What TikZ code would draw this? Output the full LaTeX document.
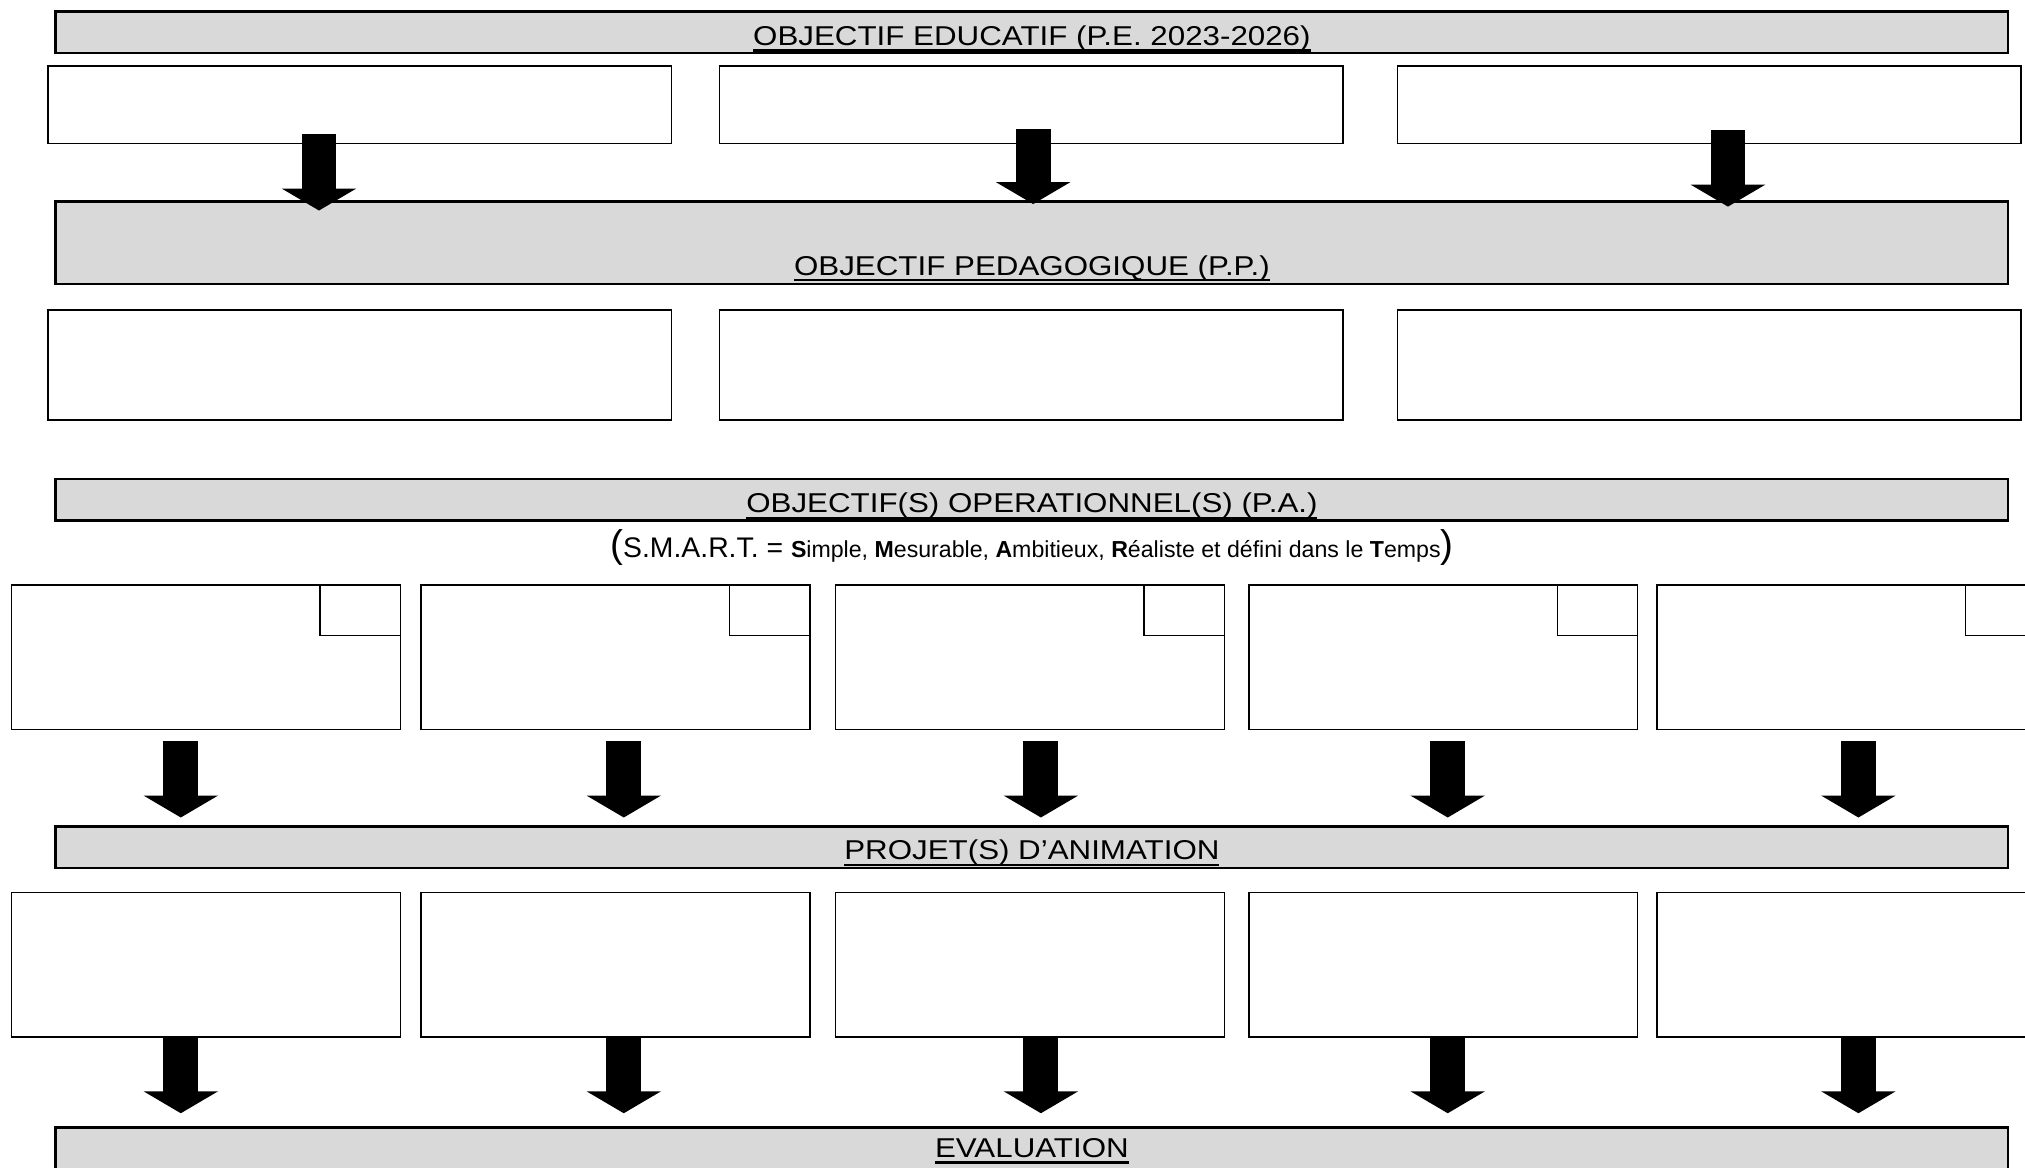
\documentclass[tikz,border=0pt]{standalone}
\usepackage{fontspec}
\usepackage{graphicx}
\setmainfont{Liberation Sans}
\usetikzlibrary{arrows.meta}
\definecolor{bannergray}{HTML}{D9D9D9}
\newcommand\px{0.02cm}
\newsavebox\bantbox
\newcommand\bantxt[1]{\scalebox{1.15}[1]{\sbox\bantbox{#1}\rlap{\rule[-2.8pt]{\wd\bantbox}{1pt}}\usebox\bantbox}}
\begin{document}
\begin{tikzpicture}[x=0.02cm,y=-0.02cm,
  banner/.style={draw=black, line width=1.1pt, fill=bannergray, inner sep=0pt, outer sep=0pt, anchor=north west,
    minimum width=1512*\px},
  cell/.style={draw=black, line width=0.7pt, fill=white, inner sep=0pt, outer sep=0pt, anchor=north west},
  corner/.style={draw=black, line width=0.7pt, inner sep=0pt, outer sep=0pt, anchor=north east,
    minimum width=62*\px, minimum height=39*\px},
  blockarrow/.style={black, line width=27*\px, -{Triangle[width=57*\px,length=17*\px]}},
  title/.style={font=\fontsize{12}{14}\selectfont, anchor=base, inner sep=0pt},
]
\useasboundingbox (0,0) rectangle (1568,904);
\clip (0,0) rectangle (1568,904);

% banners
\node[banner, minimum height=32*\px] (b1) at (43,9) {};
\node[title] (t1) at (799,35) {\bantxt{OBJECTIF EDUCATIF (P.E. 2023-2026)}};
\node[banner, minimum height=64*\px] (b2) at (43,156) {};
\node[title] (t2) at (799,213) {\bantxt{OBJECTIF PEDAGOGIQUE (P.P.)}};
\node[banner, minimum height=32*\px] (b3) at (43,371) {};
\node[title] (t3) at (799,397) {\bantxt{OBJECTIF(S) OPERATIONNEL(S) (P.A.)}};
\node[banner, minimum height=32*\px] (b4) at (43,640) {};
\node[title] (t4) at (799,665.5) {\bantxt{PROJET(S) D'ANIMATION}};
\node[banner, minimum height=60*\px] (b5) at (43,873) {};
\node[title] (t5) at (799,896) {\bantxt{EVALUATION}};

% SMART line
\node[anchor=base, inner sep=0pt] (smart) at (799,432) {{\fontsize{17}{17}\selectfont (}{\fontsize{12.5}{14}\selectfont S.M.A.R.T. = }{\fontsize{10.2}{12}\selectfont \textbf{S}imple, \textbf{M}esurable, \textbf{A}mbitieux, \textbf{R}éaliste et défini dans le \textbf{T}emps}{\fontsize{17}{17}\selectfont )}};

% row 1
\node[cell, minimum width=483*\px, minimum height=60*\px] (e1) at (37,51) {};
\node[cell, minimum width=483*\px, minimum height=60*\px] (e2) at (557,51) {};
\node[cell, minimum width=483*\px, minimum height=60*\px] (e3) at (1082,51) {};
% row 2
\node[cell, minimum width=483*\px, minimum height=85*\px] (p1) at (37,240) {};
\node[cell, minimum width=483*\px, minimum height=85*\px] (p2) at (557,240) {};
\node[cell, minimum width=483*\px, minimum height=85*\px] (p3) at (1082,240) {};
% row 3
\foreach \i/\x in {1/9,2/326,3/647,4/967,5/1283}{
  \node[cell, minimum width=301*\px, minimum height=112*\px] (o\i) at (\x,453) {};
  \node[corner] (c\i) at (o\i.north east) {};
}
% row 4
\foreach \i/\x in {1/9,2/326,3/647,4/967,5/1283}{
  \node[cell, minimum width=301*\px, minimum height=112*\px] (a\i) at (\x,691) {};
}

% arrows row 1
\coordinate (r1s1) at (247,104); \coordinate (r1e1) at (247,163);
\coordinate (r1s2) at (800,100); \coordinate (r1e2) at (800,158);
\coordinate (r1s3) at (1338,101); \coordinate (r1e3) at (1338,160);
\foreach \i in {1,2,3}{ \draw[blockarrow] (r1s\i) -- (r1e\i); }

% arrows rows 3 and 4
\foreach \i/\x in {1/140,2/483,3/806,4/1121,5/1439}{
  \coordinate (r3s\i) at (\x,574); \coordinate (r3e\i) at (\x,633);
  \draw[blockarrow] (r3s\i) -- (r3e\i);
  \coordinate (r4s\i) at (\x,804); \coordinate (r4e\i) at (\x,862);
  \draw[blockarrow] (r4s\i) -- (r4e\i);
}
\end{tikzpicture}
\end{document}
